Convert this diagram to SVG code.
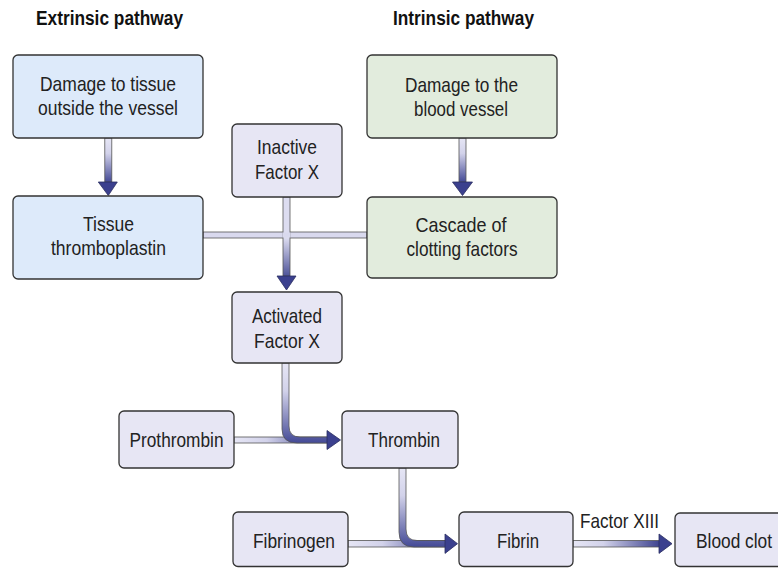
<svg xmlns="http://www.w3.org/2000/svg" width="778" height="568" viewBox="0 0 778 568">
<defs>
<style>
.box{stroke:#333;stroke-width:1.3}
.blue{fill:#ddeafa}
.green{fill:#e2ecdd}
.lav{fill:#e7e6f4}
.t{font-family:"Liberation Sans",Arial,sans-serif;font-size:21px;fill:#222;text-anchor:middle}
.title{font-family:"Liberation Sans",Arial,sans-serif;font-size:19.5px;font-weight:bold;fill:#111;text-anchor:middle}
.tube{stroke:#555;stroke-width:0.8}
.head{fill:#3b408e;stroke:#2a2d60;stroke-width:0.8;stroke-linejoin:miter}
</style>
<linearGradient id="gV" x1="0" y1="0" x2="0" y2="1">
<stop offset="0" stop-color="#e6e6f5"/>
<stop offset="0.35" stop-color="#d2d2ea"/>
<stop offset="1" stop-color="#444a96"/>
</linearGradient>
<linearGradient id="gH" x1="0" y1="0" x2="1" y2="0">
<stop offset="0" stop-color="#e6e6f5"/>
<stop offset="0.35" stop-color="#d2d2ea"/>
<stop offset="1" stop-color="#3d428f"/>
</linearGradient>
<linearGradient id="gX" gradientUnits="userSpaceOnUse" x1="0" y1="238" x2="0" y2="280">
<stop offset="0" stop-color="#dcdcf0"/>
<stop offset="1" stop-color="#3f4590"/>
</linearGradient>
</defs>

<text class="title" x="109.5" y="25" textLength="147" lengthAdjust="spacingAndGlyphs">Extrinsic pathway</text>
<text class="title" x="463.5" y="25" textLength="141" lengthAdjust="spacingAndGlyphs">Intrinsic pathway</text>

<g id="connectors">
<!-- A to D -->
<rect class="tube" x="104.8" y="138" width="7" height="44" fill="url(#gV)"/>
<polygon class="head" points="98.3,182 117.3,182 108.3,195.5"/>
<!-- B to E -->
<rect class="tube" x="459" y="138" width="7" height="44" fill="url(#gV)"/>
<polygon class="head" points="452.5,182 472.5,182 462.5,195.5"/>
<!-- cross -->
<rect class="tube" x="203" y="232" width="164" height="6" fill="#d9d9ee"/>
<rect class="tube" x="283" y="197" width="7" height="79" fill="url(#gX)"/>
<rect x="282.4" y="232.5" width="8.2" height="5" fill="#d9d9ee"/>
<polygon class="head" points="277,276 296,276 286.5,290"/>
<!-- Prothrombin / Activated to Thrombin -->
<rect class="tube" x="234" y="437" width="94" height="6" fill="url(#gH)"/>
<path class="tube" d="M282 363 L289 363 L289 426 Q289 437 300 437 L328 437 L328 443 L297 443 Q282 443 282 429 Z" fill="url(#gV)"/>
<polygon class="head" points="327,430.5 340.5,440 327,449.5"/>
<!-- Fibrinogen / Thrombin to Fibrin -->
<rect class="tube" x="348" y="540.5" width="98" height="6.5" fill="url(#gH)"/>
<path class="tube" d="M399 468 L406 468 L406 529 Q406 540.5 417 540.5 L446 540.5 L446 547 L414 547 Q399 547 399 532 Z" fill="url(#gV)"/>
<polygon class="head" points="445,534 457.5,543.7 445,553.4"/>
<!-- Fibrin to Blood clot -->
<rect class="tube" x="573" y="540.5" width="87" height="6.5" fill="url(#gH)"/>
<polygon class="head" points="659,534 672,543.7 659,553.4"/>
<text class="t" x="619.5" y="528" textLength="79" lengthAdjust="spacingAndGlyphs">Factor XIII</text>
</g>

<g id="n-damage-tissue">
<rect class="box blue" x="13" y="55" width="190" height="83" rx="5"/>
<text class="t" x="108" y="91" textLength="136" lengthAdjust="spacingAndGlyphs">Damage to tissue</text>
<text class="t" x="108" y="115" textLength="140" lengthAdjust="spacingAndGlyphs">outside the vessel</text>
</g>
<g id="n-damage-vessel">
<rect class="box green" x="367" y="55" width="190" height="83" rx="5"/>
<text class="t" x="461.5" y="92" textLength="113" lengthAdjust="spacingAndGlyphs">Damage to the</text>
<text class="t" x="461" y="116" textLength="94" lengthAdjust="spacingAndGlyphs">blood vessel</text>
</g>
<g id="n-inactive-x">
<rect class="box lav" x="232" y="124" width="110" height="73" rx="5"/>
<text class="t" x="287" y="154" textLength="60" lengthAdjust="spacingAndGlyphs">Inactive</text>
<text class="t" x="287" y="179" textLength="64" lengthAdjust="spacingAndGlyphs">Factor X</text>
</g>
<g id="n-tissue-thromboplastin">
<rect class="box blue" x="13" y="196" width="190" height="83" rx="5"/>
<text class="t" x="108.5" y="231" textLength="51" lengthAdjust="spacingAndGlyphs">Tissue</text>
<text class="t" x="108.5" y="255" textLength="115" lengthAdjust="spacingAndGlyphs">thromboplastin</text>
</g>
<g id="n-cascade">
<rect class="box green" x="367" y="197" width="190" height="81" rx="5"/>
<text class="t" x="461" y="232" textLength="91" lengthAdjust="spacingAndGlyphs">Cascade of</text>
<text class="t" x="462" y="256" textLength="111" lengthAdjust="spacingAndGlyphs">clotting factors</text>
</g>
<g id="n-activated-x">
<rect class="box lav" x="232" y="292" width="110" height="71" rx="5"/>
<text class="t" x="287" y="323" textLength="70" lengthAdjust="spacingAndGlyphs">Activated</text>
<text class="t" x="287" y="348" textLength="66" lengthAdjust="spacingAndGlyphs">Factor X</text>
</g>
<g id="n-prothrombin">
<rect class="box lav" x="119" y="411" width="115" height="57" rx="5"/>
<text class="t" x="176.5" y="447" textLength="94" lengthAdjust="spacingAndGlyphs">Prothrombin</text>
</g>
<g id="n-thrombin">
<rect class="box lav" x="342" y="411" width="116" height="57" rx="5"/>
<text class="t" x="404" y="447" textLength="72" lengthAdjust="spacingAndGlyphs">Thrombin</text>
</g>
<g id="n-fibrinogen">
<rect class="box lav" x="233" y="512" width="115" height="54.5" rx="5"/>
<text class="t" x="294" y="548" textLength="82" lengthAdjust="spacingAndGlyphs">Fibrinogen</text>
</g>
<g id="n-fibrin">
<rect class="box lav" x="459" y="512" width="114" height="54.5" rx="5"/>
<text class="t" x="518" y="548" textLength="42" lengthAdjust="spacingAndGlyphs">Fibrin</text>
</g>
<g id="n-blood-clot">
<rect class="box lav" x="675" y="513" width="125" height="53.5" rx="5"/>
<text class="t" x="734" y="548" textLength="76" lengthAdjust="spacingAndGlyphs">Blood clot</text>
</g>
</svg>
